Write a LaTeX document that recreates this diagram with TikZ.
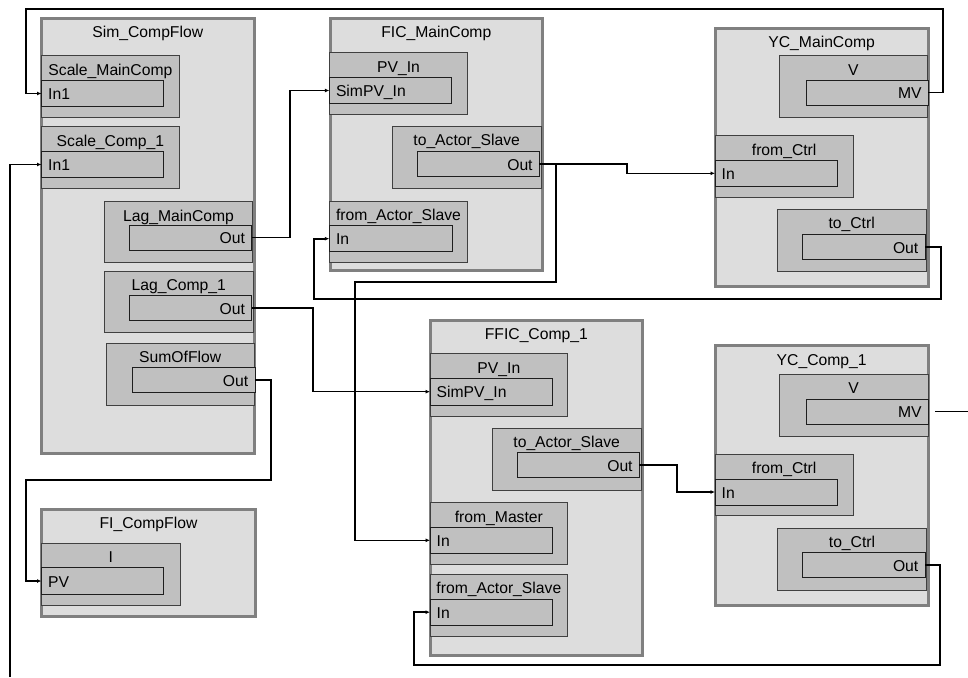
\documentclass[tikz,border=0pt]{standalone}
\usepackage{fontspec}
\setmainfont{Liberation Sans}
\usetikzlibrary{fit,arrows.meta}
\definecolor{obf}{RGB}{221,221,221}
\definecolor{obd}{RGB}{128,128,128}
\definecolor{ibf}{RGB}{192,192,192}
\definecolor{ibd}{RGB}{64,64,64}
\definecolor{pbd}{RGB}{30,30,30}
\begin{document}
\begin{tikzpicture}[x=1pt,y=-1pt,
 every node/.style={font=\fontsize{15.7}{18}\selectfont},
 ob/.style={draw=obd, fill=obf, line width=3pt, inner sep=0pt, outer sep=0pt},
 ib/.style={draw=ibd, fill=ibf, line width=0.9pt, inner sep=0pt, outer sep=0pt},
 pb/.style={draw=pbd, fill=ibf, line width=0.9pt, inner sep=0pt, outer sep=0pt},
 ttl/.style={anchor=base, inner sep=0pt, yshift=-#1},
 lin/.style={anchor=west, inner sep=0pt, xshift=6.5pt, yshift=-0.6pt, text height=11.3pt, text depth=0pt},
 lout/.style={anchor=east, inner sep=0pt, xshift=-6.5pt, yshift=-0.6pt, text height=11.3pt, text depth=0pt},
 conn/.style={line width=1.6pt, -{Latex[length=4.5pt,width=4pt]}},
 plain/.style={line width=1.6pt}
]
\useasboundingbox (0,0) rectangle (968,677);

% outer blocks
\node[ob, fit={(41.5,19) (254,453)}, label={[ttl=18.4pt]north:Sim\_CompFlow}] (sim) {};
\node[ob, fit={(41.5,509.7) (255.5,616)}, label={[ttl=18.6pt]north:FI\_CompFlow}] (fi) {};
\node[ob, fit={(330,19) (542.7,270.7)}, label={[ttl=18.5pt]north:FIC\_MainComp}] (fic) {};
\node[ob, fit={(715,28.3) (928.3,286.7)}, label={[ttl=19.7pt]north:YC\_MainComp}] (ycm) {};
\node[ob, fit={(430,320.7) (642.7,655.7)}, label={[ttl=18.4pt]north:FFIC\_Comp\_1}] (ffic) {};
\node[ob, fit={(715,345.7) (928.3,605.7)}, label={[ttl=19.8pt]north:YC\_Comp\_1}] (yc1) {};

% Sim_CompFlow
\node[ib, fit={(41.5,55.7) (179.3,117.3)}, label={[ttl=19.3pt]north:Scale\_MainComp}] (smc) {};
\node[pb, fit={(41.5,80.3) (163.7,106.7)}, label={[lin]west:In1}] (smcIn) {};
\node[ib, fit={(41.5,126.7) (179.3,188.7)}, label={[ttl=19.8pt]north:Scale\_Comp\_1}] (sc1) {};
\node[pb, fit={(41.5,151.7) (163.7,177.3)}, label={[lin]west:In1}] (sc1In) {};
\node[ib, fit={(104.3,201) (252.7,262.7)}, label={[ttl=20.3pt]north:Lag\_MainComp}] (lmc) {};
\node[pb, fit={(129.3,225.3) (251.7,250)}, label={[lout]east:Out}] (lmcOut) {};
\node[ib, fit={(104.3,271) (253.3,332.7)}, label={[ttl=19.6pt]north:Lag\_Comp\_1}] (lc1) {};
\node[pb, fit={(129.3,295.3) (251.7,320.3)}, label={[lout]east:Out}] (lc1Out) {};
\node[ib, fit={(106,343.3) (254.3,405)}, label={[ttl=19.2pt]north:SumOfFlow}] (sof) {};
\node[pb, fit={(132.3,367.7) (255,392.7)}, label={[lout]east:Out}] (sofOut) {};

% FI_CompFlow
\node[ib, fit={(41.5,543.3) (180,605)}, label={[ttl=19.6pt]north:I}] (fiI) {};
\node[pb, fit={(41.5,567.7) (163.7,594.3)}, label={[lin]west:PV}] (fiPV) {};

% FIC_MainComp
\node[ib, fit={(329.3,52.3) (467.7,114.3)}, label={[ttl=20pt]north:PV\_In}] (ficPV) {};
\node[pb, fit={(329.3,77.3) (451.7,103.7)}, label={[lin]west:SimPV\_In}] (ficPVIn) {};
\node[ib, fit={(392.3,126.7) (541,188.7)}, label={[ttl=19.2pt]north:to\_Actor\_Slave}] (ficTA) {};
\node[pb, fit={(417.3,151.7) (539.3,176)}, label={[lout]east:Out}] (ficTAOut) {};
\node[ib, fit={(329.3,201) (467.7,262.3)}, label={[ttl=19.8pt]north:from\_Actor\_Slave}] (ficFA) {};
\node[pb, fit={(329.3,225.7) (452,251.7)}, label={[lin]west:In}] (ficFAIn) {};

% YC_MainComp
\node[ib, fit={(779.3,55.7) (927.3,117.3)}, label={[ttl=20pt]north:V}] (ycmV) {};
\node[pb, fit={(806,80) (928.3,105.3)}, label={[lout]east:MV}] (ycmMV) {};
\node[ib, fit={(715,135) (853.3,197.3)}, label={[ttl=20pt]north:from\_Ctrl}] (ycmFC) {};
\node[pb, fit={(715,160) (837.3,186.7)}, label={[lin]west:In}] (ycmFCIn) {};
\node[ib, fit={(777.3,209.3) (926,271.7)}, label={[ttl=19.6pt]north:to\_Ctrl}] (ycmTC) {};
\node[pb, fit={(802.3,234.3) (925,259.3)}, label={[lout]east:Out}] (ycmTCOut) {};

% FFIC_Comp_1
\node[ib, fit={(430,353.3) (567.7,416)}, label={[ttl=20pt]north:PV\_In}] (ffPV) {};
\node[pb, fit={(430,378.3) (552.3,405)}, label={[lin]west:SimPV\_In}] (ffPVIn) {};
\node[ib, fit={(492.3,428.3) (641,490)}, label={[ttl=19.3pt]north:to\_Actor\_Slave}] (ffTA) {};
\node[pb, fit={(517.3,452.7) (639.3,477.7)}, label={[lout]east:Out}] (ffTAOut) {};
\node[ib, fit={(430,502.3) (567.7,564.3)}, label={[ttl=20pt]north:from\_Master}] (ffFM) {};
\node[pb, fit={(430,527.3) (552.3,553.3)}, label={[lin]west:In}] (ffFMIn) {};
\node[ib, fit={(430,574.3) (567.7,636)}, label={[ttl=19.6pt]north:from\_Actor\_Slave}] (ffFA) {};
\node[pb, fit={(430,599.3) (552.3,625)}, label={[lin]west:In}] (ffFAIn) {};

% YC_Comp_1
\node[ib, fit={(779,374) (928.3,436)}, label={[ttl=19.8pt]north:V}] (yc1V) {};
\node[pb, fit={(806,399) (928.3,424)}, label={[lout]east:MV}] (yc1MV) {};
\node[ib, fit={(715,454) (853.3,515.7)}, label={[ttl=19.8pt]north:from\_Ctrl}] (yc1FC) {};
\node[pb, fit={(715,479) (837.3,505)}, label={[lin]west:In}] (yc1FCIn) {};
\node[ib, fit={(777.3,528.3) (926.7,590)}, label={[ttl=19.6pt]north:to\_Ctrl}] (yc1TC) {};
\node[pb, fit={(802.3,552.7) (925,577.7)}, label={[lout]east:Out}] (yc1TCOut) {};

% routing helpers
\coordinate (xL) at (26,0);
\coordinate (cTR) at (943,9);
\coordinate (freeB) at (10,677);
\coordinate (freeR) at (968,0);
\coordinate (x290) at (290,0);
\coordinate (x313) at (313,0);
\coordinate (x627) at (627,0);
\coordinate (x355) at (355,0);
\coordinate (x314) at (314,0);
\coordinate (x677) at (677,0);
\coordinate (x414) at (414,0);

% connectors
\draw[conn] (ycmMV.east) -| (cTR) -| (smcIn.west -| xL) -- (smcIn.west);
\draw[conn] (freeB) |- (sc1In.west);
\draw[conn] (lmcOut.east) -| (x290 |- ficPVIn.west) -- (ficPVIn.west);
\draw[conn] (lc1Out.east) -| (x313 |- ffPVIn.west) -- (ffPVIn.west);
\draw[conn] (sofOut.east) -| (271,480) -| (fiPV.west -| xL) -- (fiPV.west);
\draw[conn] (ficTAOut.east) -| (x627 |- ycmFCIn.west) -- (ycmFCIn.west);
\draw[conn] (ficTAOut.east) -| (556,282) -| (ffFMIn.west -| x355) -- (ffFMIn.west);
\draw[conn] (ycmTCOut.east) -| (941,299) -| (ficFAIn.west -| x314) -- (ficFAIn.west);
\draw[conn] (ffTAOut.east) -| (x677 |- yc1FCIn.west) -- (yc1FCIn.west);
\draw[conn] (yc1TCOut.east) -| (940,665) -| (ffFAIn.west -| x414) -- (ffFAIn.west);
\draw[plain] ([xshift=7pt]yc1MV.east) -- (yc1MV.east -| freeR);
\end{tikzpicture}
\end{document}
